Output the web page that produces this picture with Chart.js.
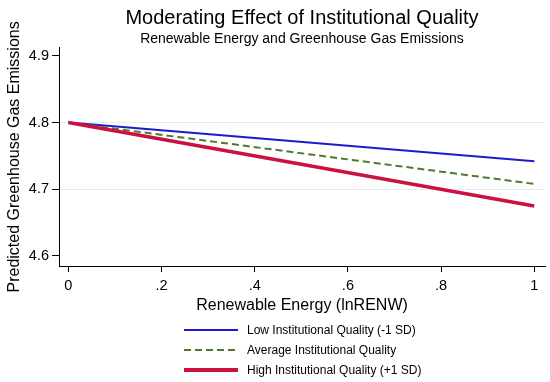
<!DOCTYPE html>
<html>
<head>
<meta charset="utf-8">
<script src="https://cdn.jsdelivr.net/npm/chart.js@4.4.1/dist/chart.umd.min.js"></script>
<style>
  body { margin: 0; background: #fff; }
  #wrap { position: relative; width: 550px; height: 382px; }
  #legend {
    position: absolute;
    left: 184px;
    top: 320px;
    font: 12px "Liberation Sans", Arial, sans-serif;
    color: #000;
  }
  .row { display: flex; align-items: center; height: 20px; }
  .swatch { display: inline-block; width: 54px; margin-right: 9px; }
</style>
</head>
<body>
<div id="wrap">
  <canvas id="chart" width="550" height="382"></canvas>
  <div id="legend"></div>
</div>
<script>
// values
const renew = [0, 1];
const lowIQ = [4.8, 4.742];
const avgIQ = [4.8, 4.708];
const highIQ = [4.8, 4.675];

const xTicks = [0, 0.2, 0.4, 0.6, 0.8, 1];
const xTickLabels = ["0", ".2", ".4", ".6", ".8", "1"];
const yTicks = [4.6, 4.7, 4.8, 4.9];
const yTickLabels = ["4.6", "4.7", "4.8", "4.9"];
const yGridAt = [4.7, 4.8];

Chart.defaults.font.family = "'Liberation Sans', Arial, sans-serif";
Chart.defaults.color = "#000";

const toPoints = (ys) => renew.map((x, i) => ({ x: x, y: ys[i] }));

const ctx = document.getElementById("chart").getContext("2d");
const chart = new Chart(ctx, {
  type: "line",
  data: {
    datasets: [
      {
        label: "Low Institutional Quality (-1 SD)",
        data: toPoints(lowIQ),
        borderColor: "#1c1ccc",
        borderWidth: 2,
        order: 2,
      },
      {
        label: "Average Institutional Quality",
        data: toPoints(avgIQ),
        borderColor: "#4e7a30",
        borderWidth: 2,
        borderDash: [7, 4],
        order: 1,
      },
      {
        label: "High Institutional Quality (+1 SD)",
        data: toPoints(highIQ),
        borderColor: "#cc1140",
        borderWidth: 3.5,
        order: 0,
      },
    ],
  },
  options: {
    responsive: false,
    animation: false,
    elements: { point: { radius: 0 }, line: { tension: 0 } },
    layout: { padding: { left: 0, right: 5, top: 0, bottom: 67 } },
    plugins: {
      legend: { display: false },
      tooltip: { enabled: false },
      title: {
        display: true,
        text: "Moderating Effect of Institutional Quality",
        fullSize: false,
        color: "#000",
        font: { size: 20, weight: "normal" },
        padding: { top: 6, bottom: 0 },
      },
      subtitle: {
        display: true,
        text: "Renewable Energy and Greenhouse Gas Emissions",
        fullSize: false,
        color: "#000",
        font: { size: 14 },
        padding: { top: 1, bottom: 0 },
      },
    },
    scales: {
      x: {
        type: "linear",
        min: -0.02,
        max: 1.023,
        afterBuildTicks: (scale) => {
          scale.ticks = xTicks.map((v) => ({ value: v }));
        },
        afterFit: (scale) => {
          scale.height = 49;
        },
        border: { display: true, color: "#000", width: 1 },
        grid: { drawOnChartArea: false, tickColor: "#000", tickLength: 6 },
        ticks: {
          padding: 5,
          maxRotation: 0,
          font: { size: 14.5 },
          callback: (v) => xTickLabels[xTicks.indexOf(v)],
        },
        title: {
          display: true,
          text: "Renewable Energy (lnRENW)",
          font: { size: 16 },
          padding: { top: 0, bottom: 0 },
        },
      },
      y: {
        min: 4.585,
        max: 4.912,
        afterBuildTicks: (scale) => {
          scale.ticks = yTicks.map((v) => ({ value: v }));
        },
        afterFit: (scale) => {
          scale.width = 59;
        },
        border: { display: true, color: "#000", width: 1 },
        grid: {
          color: (c) =>
            c.tick && yGridAt.some((g) => Math.abs(g - c.tick.value) < 1e-9)
              ? "#e3ebee"
              : "rgba(0,0,0,0)",
          tickColor: "#000",
          tickLength: 7,
        },
        ticks: {
          padding: 3,
          font: { size: 14.5 },
          callback: (v) => yTickLabels[yTicks.indexOf(v)],
        },
        title: {
          display: true,
          text: "Predicted Greenhouse Gas Emissions",
          font: { size: 16 },
          padding: { top: 5, bottom: 0 },
        },
      },
    },
  },
});

// legend stacked in one left-aligned column, like the original
const legendEl = document.getElementById("legend");
chart.data.datasets.forEach((ds) => {
  const row = document.createElement("div");
  row.className = "row";
  const sw = document.createElement("span");
  sw.className = "swatch";
  sw.style.height = ds.borderWidth + "px";
  sw.style.background = ds.borderDash
    ? `repeating-linear-gradient(to right, ${ds.borderColor} 0 7px, transparent 7px 11px)`
    : ds.borderColor;
  const txt = document.createElement("span");
  txt.textContent = ds.label;
  row.appendChild(sw);
  row.appendChild(txt);
  legendEl.appendChild(row);
});
</script>
</body>
</html>
